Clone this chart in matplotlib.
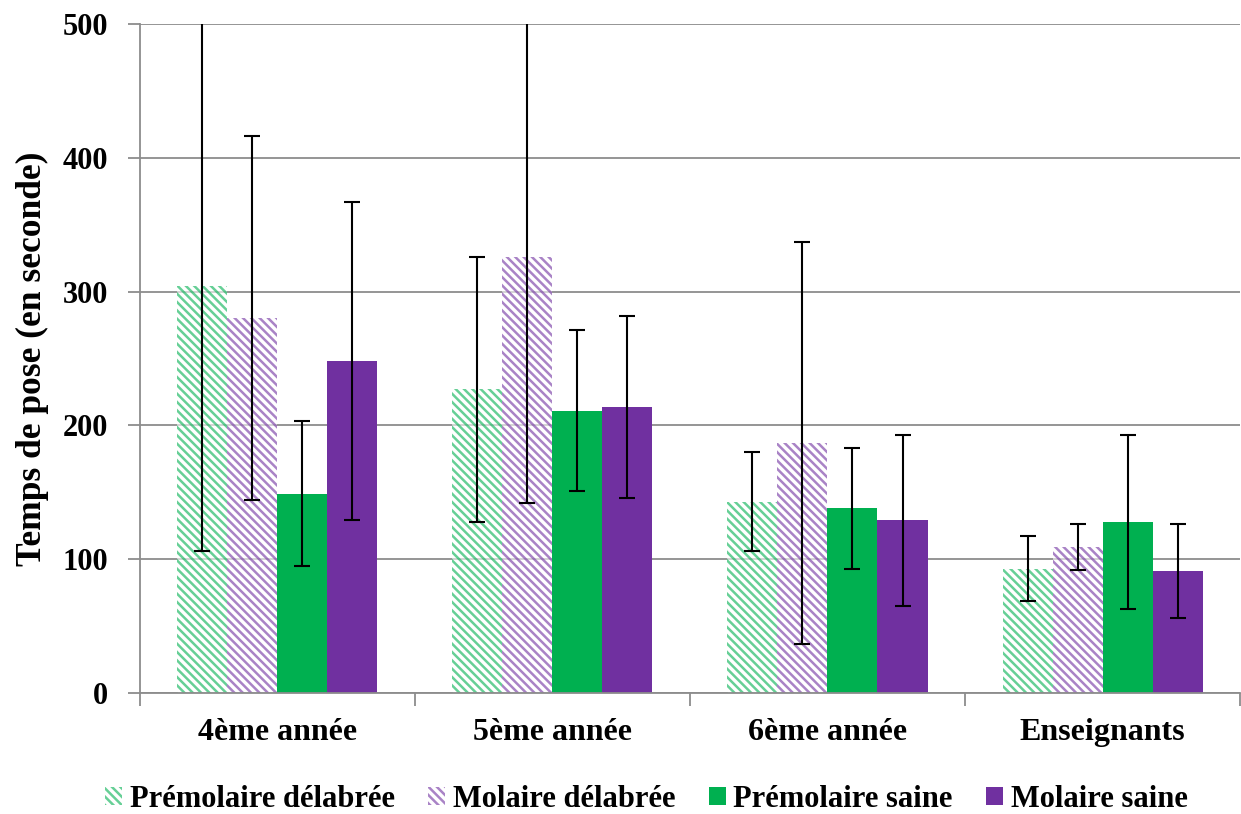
import matplotlib.pyplot as plt
import numpy as np

groups = ['4ème année', '5ème année', '6ème année', 'Enseignants']
series = ['Prémolaire délabrée', 'Molaire délabrée', 'Prémolaire saine', 'Molaire saine']

premolaire_delabree = [304, 227, 143, 93]
molaire_delabree = [280, 326, 187, 109]
premolaire_saine = [149, 211, 138, 128]
molaire_saine = [248, 214, 129, 91]

err_premolaire_delabree = [198, 99, 37, 24]
err_molaire_delabree = [136, 184, 150, 17]
err_premolaire_saine = [54, 60, 45, 65]
err_molaire_saine = [119, 68, 64, 35]

values = [premolaire_delabree, molaire_delabree, premolaire_saine, molaire_saine]
errors = [err_premolaire_delabree, err_molaire_delabree, err_premolaire_saine, err_molaire_saine]

green = '#00B050'
purple = '#7030A0'
colors = [green, purple, green, purple]
hatched = [True, True, False, False]

plt.rcParams['font.family'] = ['Liberation Serif', 'DejaVu Serif']
plt.rcParams['font.weight'] = 'bold'
plt.rcParams['hatch.linewidth'] = 1.8

fig = plt.figure(figsize=(12.41, 8.14), dpi=100)
ax = fig.add_axes([0.1128, 0.1486, 0.8864, 0.8219])

x = np.arange(len(groups))
w = 50 / 275
for i in range(4):
    pos = x - 1.5 * w + i * w
    if hatched[i]:
        ax.bar(pos, values[i], w, facecolor='white', edgecolor=colors[i], alpha=0.6,
               hatch='\\\\\\\\', linewidth=0, label=series[i], zorder=2)
    else:
        ax.bar(pos, values[i], w, color=colors[i], linewidth=0, label=series[i], zorder=2)
    ax.errorbar(pos, values[i], yerr=errors[i], fmt='none', ecolor='black',
                elinewidth=1.5, capsize=6, capthick=1.5, zorder=3)

ax.set_xlim(-0.5, len(groups) - 0.5)
ax.set_ylim(0, 500)
ax.set_yticks([0, 100, 200, 300, 400, 500])
ax.yaxis.grid(True, color='#8c8c8c', linewidth=1.3, zorder=0)
ax.set_axisbelow(True)

ax.set_xticks(x)
ax.set_xticklabels(groups)
ax.set_xticks(np.arange(len(groups) + 1) - 0.5, minor=True)
ax.tick_params(axis='x', which='major', length=0, pad=18, labelsize=23)
ax.tick_params(axis='x', which='minor', length=9, width=1.3, color='#8c8c8c')
ax.tick_params(axis='y', length=9, width=1.3, color='#8c8c8c', labelsize=22, pad=14)

for s in ['top', 'right']:
    ax.spines[s].set_visible(False)
for s in ['left', 'bottom']:
    ax.spines[s].set_color('#8c8c8c')
    ax.spines[s].set_linewidth(1.3)

ax.set_ylabel('Temps de pose (en seconde)', fontsize=25.5, fontweight='bold', labelpad=10)

fig.legend(*ax.get_legend_handles_labels(), loc='center', bbox_to_anchor=(0.521, 0.018),
           ncol=4, frameon=False, fontsize=22, handlelength=0.55, handleheight=0.55,
           handletextpad=0.25, columnspacing=1.1, borderpad=0)

fig.savefig('out.png', dpi=100)
